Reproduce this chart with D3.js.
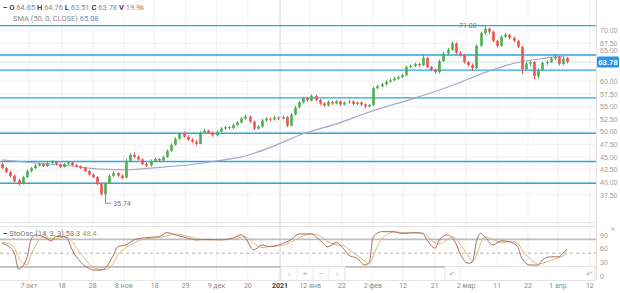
<!DOCTYPE html>
<html>
<head>
<meta charset="utf-8">
<script src="https://cdn.jsdelivr.net/npm/d3@7"></script>
<style>
  html, body { margin: 0; padding: 0; background: #fff; }
  svg { display: block; font-family: Roboto, "Noto Sans", sans-serif; }
</style>
</head>
<body>
<div id="chart"></div>
<script>
// OHLC, one entry per bar (bar index = position in array)
const opens = [43.6,42.8,42.0,41.3,40.4,39.8,41.0,42.2,42.8,43.3,43.6,43.2,43.8,44.0,43.5,43.0,43.6,43.9,43.4,43.1,
  42.8,42.2,41.5,41.0,39.6,37.6,39.8,41.2,41.8,41.3,40.9,44.2,45.4,45.0,44.5,43.6,43.3,44.2,44.6,44.3,
  45.0,46.2,47.4,48.6,49.6,49.0,48.4,48.0,47.6,49.8,50.2,49.8,49.3,50.0,50.6,50.9,50.7,51.3,51.8,52.6,
  53.0,52.0,50.6,51.0,52.2,52.6,52.4,52.8,52.6,52.9,51.2,53.4,54.8,55.8,56.6,56.2,57.1,56.3,55.6,55.2,
  55.9,55.6,56.0,55.4,55.8,56.0,55.5,55.8,55.4,55.0,55.3,58.6,59.0,59.4,59.9,60.2,60.5,60.8,61.2,62.8,
  63.0,63.4,63.2,64.6,62.8,62.3,61.8,64.0,65.5,66.2,67.5,65.6,65.2,63.8,63.2,62.6,67.0,69.5,70.4,69.8,
  68.0,67.0,68.8,69.2,68.6,68.0,66.8,62.4,63.5,63.8,61.0,62.2,63.6,63.8,64.5,64.8,63.4,64.65];
const highs = [43.9,43.0,42.3,41.5,40.7,41.3,42.5,43.0,43.6,43.9,43.8,44.0,44.3,44.2,43.7,43.8,44.1,44.0,43.6,43.3,
  43.0,42.4,41.7,41.2,39.8,40.0,41.5,42.2,42.0,41.5,44.6,45.8,45.9,45.3,44.7,43.9,44.5,44.9,44.8,45.3,
  46.5,47.7,48.9,49.9,50.0,49.3,48.7,48.3,50.1,50.6,50.4,50.0,50.3,50.9,51.2,51.1,51.6,52.1,52.9,53.4,
  53.2,52.2,51.3,52.5,52.9,52.8,53.1,53.0,53.2,53.1,53.7,55.1,56.1,56.9,56.8,57.4,57.3,56.5,55.8,56.2,
  56.1,56.3,56.2,56.0,56.3,56.2,56.0,56.0,55.6,55.5,58.9,59.3,59.7,60.2,60.5,60.8,61.1,61.5,63.1,63.3,
  63.7,63.6,65.3,64.8,63.0,62.5,64.3,65.8,66.6,67.9,67.7,65.9,65.4,64.0,63.5,67.3,69.8,71.08,70.6,70.0,
  68.2,69.1,69.5,69.4,68.8,68.2,67.0,63.8,64.2,64.0,62.5,63.9,64.1,64.8,65.3,65.0,64.8,64.76];
const lows = [42.6,41.8,40.9,40.0,39.4,39.6,40.8,41.9,42.6,43.1,43.0,43.0,43.6,43.3,42.8,42.9,43.4,43.2,42.9,42.6,
  42.0,41.3,40.8,39.4,37.4,35.74,39.6,41.0,41.1,40.6,40.8,44.0,44.8,44.3,43.4,43.0,43.1,44.0,44.0,44.1,
  44.8,46.0,47.2,48.4,48.8,48.2,47.8,47.3,47.5,49.6,49.6,49.0,49.1,49.8,50.4,50.4,50.5,51.1,51.6,52.4,
  51.8,50.3,50.4,50.8,52.0,52.1,52.2,52.3,52.4,50.9,51.0,53.2,54.6,55.6,55.9,56.0,56.0,55.3,54.9,55.0,
  55.3,55.4,55.1,55.2,55.6,55.2,55.3,55.1,54.7,54.8,55.1,58.4,58.8,59.2,59.7,60.0,60.3,60.6,61.0,62.6,
  62.8,62.9,63.0,62.6,62.0,61.5,61.6,63.8,65.3,66.0,65.3,64.9,63.5,62.9,62.0,62.4,66.8,69.2,69.4,67.7,
  66.7,66.8,68.6,68.3,67.7,66.5,61.4,62.2,63.0,60.4,60.6,62.0,63.2,63.6,64.2,63.1,63.2,63.51];
const closes = [42.8,42.0,41.2,40.2,39.7,41.0,42.2,42.8,43.3,43.6,43.2,43.8,44.0,43.5,43.0,43.6,43.9,43.4,43.1,42.8,
  42.2,41.5,41.0,39.6,37.6,39.8,41.2,41.8,41.3,40.8,44.2,45.4,45.0,44.5,43.6,43.3,44.2,44.6,44.3,45.0,
  46.2,47.4,48.6,49.6,49.0,48.4,48.0,47.6,49.8,50.2,49.8,49.3,50.0,50.6,50.9,50.7,51.3,51.8,52.6,53.0,
  52.0,50.6,51.0,52.2,52.6,52.4,52.8,52.6,52.9,51.2,53.4,54.8,55.8,56.6,56.2,57.1,56.3,55.6,55.2,55.9,
  55.6,56.0,55.4,55.8,56.0,55.5,55.8,55.4,55.0,55.3,58.6,59.0,59.4,59.9,60.2,60.5,60.8,61.2,62.8,63.0,
  63.4,63.2,64.6,62.8,62.3,61.8,64.0,65.5,66.2,67.5,65.6,65.2,63.8,63.2,62.6,67.0,69.5,70.4,69.8,68.0,
  67.0,68.8,69.2,68.6,68.0,66.8,62.4,63.5,63.8,61.0,62.2,63.6,63.8,64.5,64.8,63.4,64.5,63.78];

// SMA(50) at selected bars
const smaIdx = [0, 8, 17, 24, 31, 36, 46, 53, 58, 66, 72, 82, 88, 101, 109, 117, 125, 130, 137];
const smaVal = [44.4, 43.8, 43.2, 42.6, 42.5, 42.8, 43.5, 44.3, 45.0, 47.2, 49.3, 51.8, 53.6, 56.9, 59.1, 61.7, 63.7, 64.4, 65.08];

// Support / resistance lines
const levels = [71.0, 65.2, 62.2, 56.7, 49.7, 44.1, 39.8];

// Stochastic oscillator (%K, %D) read at selected bars
const stoIdx = [0,1,3,4,6,7,8,10,12,13,15,16,17,19,21,22,24,25,27,28,30,32,34,38,40,42,45,47,50,53,
  56,58,59,61,63,65,68,70,72,75,77,79,81,83,84,86,88,89,90,92,95,97,100,102,103,105,106,108,109,110,
  111,113,114,115,116,117,119,121,123,125,126,128,130,131,133,135,136,137];
const stoK = [71,68,50,15,39,79,90,86,77,86,87,79,57,31,17,13,13,17,46,64,68,79,83,86,95,90,83,79,80,79,
  83,90,83,57,68,64,71,79,92,92,79,64,73,57,46,39,24,30,85,97,97,93,95,93,79,61,79,90,85,72,
  50,28,30,75,93,86,68,77,75,64,39,24,24,35,42,42,50,58.3];
const stoD = [74,72,62,40,25,45,65,85,82,82,85,84,75,50,28,20,14,14,28,45,62,72,80,84,88,92,87,82,79,80,
  80,85,86,72,62,65,67,74,84,92,88,75,68,66,58,46,32,26,45,80,96,95,94,94,88,72,70,80,86,82,
  70,45,32,45,70,86,80,73,75,72,58,38,26,28,34,40,44,48.4];
const stoLevels = [80, 50, 20];
const stoTicks = [0, 30, 60, 90];

// Price axis ticks
const priceTicks = [37.5, 40, 42.5, 45, 47.5, 50, 52.5, 55, 57.5, 60, 65, 67.5, 70];

// Time axis labels (bar index positions)
const timeTickIdx = [6.5, 14.5, 22, 29.5, 37, 44.5, 52, 59.6, 67.4, 74.7, 82.4, 89.9, 97.2, 104.9, 112.5, 120, 127.5, 134.8, 142.5];
const timeTickLabels = ['7 окт', '18', '28', '8 ноя', '18', '29', '9 дек', '20', '2021', '12 янв', '22', '2 фев', '12', '21', '2 мар', '11', '22', '1 апр', '12'];

const W = 620, H = 293;
const plotRight = 596;
const mainTop = 0, mainBottom = 222;
const stoTop = 226, stoBottom = 280;

const svg = d3.select('#chart').append('svg')
  .attr('width', W).attr('height', H);

const x = d3.scaleLinear().domain([-0.5, 144]).range([0, plotRight]);
const y = d3.scaleLinear().domain([37.5, 70]).range([194.8, 30.7]);
const ys = d3.scaleLinear().domain([0, 100]).range([276, 230.3]);

const green = '#4caf50', red = '#ef5350';
const last = closes.length - 1;
const tagY = y(closes[last]);

// grid
const grid = svg.append('g');
grid.selectAll('line.v').data(timeTickIdx).join('line')
  .attr('x1', d => x(d)).attr('x2', d => x(d))
  .attr('y1', mainTop).attr('y2', stoBottom)
  .attr('stroke', (d, i) => timeTickLabels[i] === '2021' ? '#d4d4d4' : '#f1f1f1')
  .attr('stroke-width', 1);
grid.selectAll('line.h').data(priceTicks).join('line')
  .attr('x1', 0).attr('x2', plotRight)
  .attr('y1', d => y(d)).attr('y2', d => y(d))
  .attr('stroke', '#f1f1f1');

// pane borders
svg.append('line').attr('x1', plotRight + 0.5).attr('x2', plotRight + 0.5)
  .attr('y1', 0).attr('y2', stoBottom).attr('stroke', '#e2e2e2');
svg.append('line').attr('x1', 0).attr('x2', plotRight)
  .attr('y1', mainBottom + 0.5).attr('y2', mainBottom + 0.5).attr('stroke', '#e6e6e6');
svg.append('line').attr('x1', 0).attr('x2', plotRight)
  .attr('y1', stoTop + 0.5).attr('y2', stoTop + 0.5).attr('stroke', '#e2e2e2');
svg.append('line').attr('x1', 0).attr('x2', plotRight)
  .attr('y1', stoBottom + 0.5).attr('y2', stoBottom + 0.5).attr('stroke', '#e6e6e6');

// current price line
svg.append('line').attr('x1', 0).attr('x2', plotRight)
  .attr('y1', tagY).attr('y2', tagY)
  .attr('stroke', '#d6e2f2').attr('stroke-width', 1);

// support / resistance
svg.append('g').selectAll('line').data(levels).join('line')
  .attr('x1', 0).attr('x2', plotRight)
  .attr('y1', d => y(d)).attr('y2', d => y(d))
  .attr('stroke', '#2aa7df').attr('stroke-width', 1.4);

// SMA
const smaPts = smaIdx.map((d, i) => [d, smaVal[i]]);
svg.append('path').datum(smaPts)
  .attr('fill', 'none').attr('stroke', '#a3a8cc').attr('stroke-width', 1.2)
  .attr('d', d3.line().x(d => x(d[0])).y(d => y(d[1])).curve(d3.curveMonotoneX));

// candles
const bars = closes.map((c, i) => ({ i, o: opens[i], h: highs[i], l: lows[i], c }));
const bw = 2.6;
const cg = svg.append('g');
cg.selectAll('line').data(bars).join('line')
  .attr('x1', d => Math.round(x(d.i)) + 0.5).attr('x2', d => Math.round(x(d.i)) + 0.5)
  .attr('y1', d => y(d.h)).attr('y2', d => y(d.l))
  .attr('stroke', d => d.c >= d.o ? green : red).attr('stroke-width', 1);
cg.selectAll('rect').data(bars).join('rect')
  .attr('x', d => Math.round(x(d.i)) + 0.5 - bw / 2)
  .attr('width', bw)
  .attr('y', d => y(Math.max(d.o, d.c)))
  .attr('height', d => Math.max(0.8, Math.abs(y(d.o) - y(d.c))))
  .attr('fill', d => d.c >= d.o ? green : red);

// high / low markers
const hiBar = bars.reduce((a, b) => b.h > a.h ? b : a);
const loBar = bars.reduce((a, b) => b.l < a.l ? b : a);
svg.append('line').attr('x1', x(hiBar.i) - 6).attr('x2', x(hiBar.i) - 1)
  .attr('y1', y(hiBar.h) + 0.5).attr('y2', y(hiBar.h) + 0.5).attr('stroke', '#888');
svg.append('text').attr('x', x(hiBar.i) - 8).attr('y', y(hiBar.h) + 2.5)
  .attr('text-anchor', 'end').attr('font-size', 7).attr('fill', '#777')
  .text(d3.format('.2f')(hiBar.h));
svg.append('line').attr('x1', x(loBar.i) + 1).attr('x2', x(loBar.i) + 6)
  .attr('y1', y(loBar.l) - 0.5).attr('y2', y(loBar.l) - 0.5).attr('stroke', '#888');
svg.append('text').attr('x', x(loBar.i) + 8).attr('y', y(loBar.l) + 2)
  .attr('font-size', 7).attr('fill', '#777')
  .text(d3.format('.2f')(loBar.l));

// price axis (labels that would sit under the price tag are pushed above it)
const pa = svg.append('g').attr('transform', `translate(${plotRight + 4},0)`)
  .call(d3.axisRight(y).tickValues(priceTicks).tickFormat(d3.format('.2f')).tickSize(0));
pa.select('.domain').remove();
pa.selectAll('text').attr('font-size', 7).attr('fill', '#9a9a9a').attr('x', 0)
  .attr('dy', d => Math.abs(y(d) - tagY) < 9 ? '-0.5em' : '0.32em');

// current price tag
svg.append('rect').attr('x', plotRight + 1).attr('y', tagY - 5.5).attr('width', 22).attr('height', 11)
  .attr('rx', 1.5).attr('fill', '#2196f3');
svg.append('text').attr('x', plotRight + 12).attr('y', tagY + 3)
  .attr('text-anchor', 'middle').attr('font-size', 7.5).attr('font-weight', 700).attr('fill', '#fff')
  .text(d3.format('.2f')(closes[last]));

// stochastic pane
svg.append('g').selectAll('line').data(stoLevels).join('line')
  .attr('x1', 0).attr('x2', plotRight)
  .attr('y1', d => ys(d)).attr('y2', d => ys(d))
  .attr('stroke', d => d === 50 ? '#9e9e9e' : '#bdbdbd')
  .attr('stroke-width', d => d === 50 ? 0.8 : 1.8)
  .attr('stroke-dasharray', d => d === 50 ? '3,3' : null);

const stoLine = d3.line().x(d => x(d[0])).y(d => ys(d[1])).curve(d3.curveMonotoneX);
svg.append('path').datum(stoIdx.map((d, i) => [d, stoD[i]]))
  .attr('fill', 'none').attr('stroke', '#d2bc7e').attr('stroke-width', 1).attr('d', stoLine);
svg.append('path').datum(stoIdx.map((d, i) => [d, stoK[i]]))
  .attr('fill', 'none').attr('stroke', '#b06a58').attr('stroke-width', 1).attr('d', stoLine);

const sa = svg.append('g').attr('transform', `translate(${plotRight + 4},0)`)
  .call(d3.axisRight(ys).tickValues(stoTicks).tickSize(0));
sa.select('.domain').remove();
sa.selectAll('text').attr('font-size', 7).attr('fill', '#9a9a9a').attr('x', 0);
svg.append('text').attr('x', 613).attr('y', 232).attr('text-anchor', 'middle')
  .attr('font-size', 9).attr('fill', '#b0b0b0').text('×');

// navigation overlay
const nav = svg.append('g');
nav.append('rect').attr('x', 281).attr('y', 266.5).attr('width', 64).attr('height', 14)
  .attr('fill', '#fff').attr('stroke', '#e4e4e4');
nav.selectAll('text.nb').data(['‹', '+', '−', '›']).join('text')
  .attr('x', (d, i) => 289 + i * 16).attr('y', 277).attr('text-anchor', 'middle')
  .attr('font-size', 9).attr('fill', '#bbb').text(d => d);
nav.selectAll('line.sep').data([1, 2, 3]).join('line')
  .attr('x1', d => 281 + d * 16).attr('x2', d => 281 + d * 16)
  .attr('y1', 267).attr('y2', 280).attr('stroke', '#ececec');
nav.append('rect').attr('x', 445).attr('y', 266.5).attr('width', 150).attr('height', 14)
  .attr('fill', '#fff').attr('stroke', '#e4e4e4');
nav.append('line').attr('x1', 460).attr('x2', 460).attr('y1', 267).attr('y2', 280).attr('stroke', '#ececec');
nav.append('text').attr('x', 452).attr('y', 277).attr('text-anchor', 'middle')
  .attr('font-size', 8).attr('fill', '#bbb').text('↶');
nav.append('text').attr('x', 589).attr('y', 277).attr('text-anchor', 'middle')
  .attr('font-size', 8).attr('fill', '#bbb').text('↶');

// time axis
svg.append('g').selectAll('text').data(timeTickIdx).join('text')
  .attr('x', d => x(d)).attr('y', 288).attr('text-anchor', 'middle')
  .attr('font-size', 7).attr('fill', (d, i) => timeTickLabels[i] === '2021' ? '#444' : '#8a8a8a')
  .attr('font-weight', (d, i) => timeTickLabels[i] === '2021' ? 700 : 400)
  .text((d, i) => timeTickLabels[i]);

// legends
const fmt = d3.format('.2f');
const head = svg.append('text').attr('x', 3).attr('y', 10).attr('font-size', 7.5).attr('fill', '#8a8a8a');
head.append('tspan').attr('fill', '#333').attr('font-weight', 700).text('‒ ');
[['O', opens[last]], ['H', highs[last]], ['L', lows[last]], ['C', closes[last]]].forEach(([k, v]) => {
  head.append('tspan').attr('fill', '#444').attr('font-weight', 700).text(' ' + k + ' ');
  head.append('tspan').text(fmt(v) + ' ');
});
head.append('tspan').attr('fill', '#444').attr('font-weight', 700).text(' V ');
head.append('tspan').text('19.9k');

const smaTxt = svg.append('text').attr('x', 13).attr('y', 21).attr('font-size', 7.5).attr('fill', '#8a8a8a');
smaTxt.append('tspan').text('SMA (50, 0, CLOSE) ');
smaTxt.append('tspan').attr('fill', '#6f7fd8').text(fmt(smaVal[smaVal.length - 1]));

const stoTxt = svg.append('text').attr('x', 3).attr('y', 236).attr('font-size', 7.5).attr('fill', '#777');
stoTxt.append('tspan').attr('fill', '#333').attr('font-weight', 700).text('‒ ');
stoTxt.append('tspan').text(' StoOsc (14, 3, 3) ');
stoTxt.append('tspan').attr('fill', '#c4675c').text(d3.format('.1f')(stoK[stoK.length - 1]) + ' ');
stoTxt.append('tspan').attr('fill', '#aaa245').text(d3.format('.1f')(stoD[stoD.length - 1]));
</script>
</body>
</html>
